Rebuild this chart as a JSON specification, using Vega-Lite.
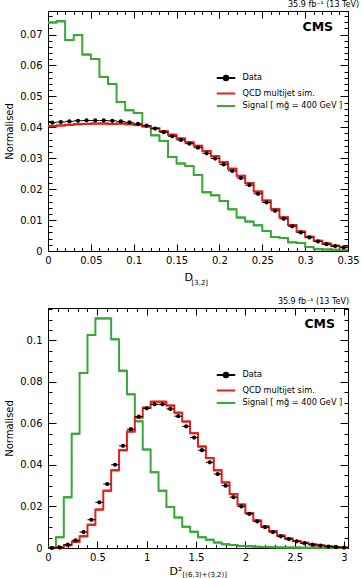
{
 "$schema": "https://vega.github.io/schema/vega-lite/v6.json",
 "background": "white",
 "padding": {"left": 4, "top": 0, "right": 0, "bottom": 0},
 "spacing": 11,
 "config": {
  "font": "DejaVu Sans",
  "view": {"stroke": "black", "strokeWidth": 1},
  "axis": {"domain": false, "grid": false, "labelFontSize": 10, "labelColor": "black", "tickColor": "black", "tickWidth": 1, "labelFlush": false, "labelOverlap": false, "titleFontWeight": "normal", "titleColor": "black", "titleFontSize": 10},
  "title": {"fontSize": 8, "fontWeight": "normal", "anchor": "end", "offset": 2, "color": "black"},
  "legend": {"labelFontSize": 8.2, "labelColor": "black", "padding": 0, "symbolStrokeWidth": 2, "symbolSize": 85, "rowPadding": 2.5, "labelOffset": 10.5}
 },
 "resolve": {"scale": {"color": "independent"}, "legend": {"color": "independent"}},
 "datasets": {
  "top": [
   {"lo":0,"hi":0.01,"m":0.005,"Data":0.0415,"QCD":0.0404,"Signal":0.0739},
   {"lo":0.01,"hi":0.02,"m":0.015,"Data":0.0417,"QCD":0.0406,"Signal":0.0743},
   {"lo":0.02,"hi":0.03,"m":0.025,"Data":0.0419,"QCD":0.0408,"Signal":0.0682},
   {"lo":0.03,"hi":0.04,"m":0.035,"Data":0.0421,"QCD":0.041,"Signal":0.0698},
   {"lo":0.04,"hi":0.05,"m":0.045,"Data":0.0422,"QCD":0.0411,"Signal":0.0635},
   {"lo":0.05,"hi":0.06,"m":0.055,"Data":0.0422,"QCD":0.0412,"Signal":0.0621},
   {"lo":0.06,"hi":0.07,"m":0.065,"Data":0.0422,"QCD":0.0412,"Signal":0.0563},
   {"lo":0.07,"hi":0.08,"m":0.075,"Data":0.0421,"QCD":0.0411,"Signal":0.054},
   {"lo":0.08,"hi":0.09,"m":0.085,"Data":0.0419,"QCD":0.0412,"Signal":0.0482},
   {"lo":0.09,"hi":0.1,"m":0.095,"Data":0.0416,"QCD":0.041,"Signal":0.0455},
   {"lo":0.1,"hi":0.11,"m":0.105,"Data":0.0411,"QCD":0.0407,"Signal":0.0446},
   {"lo":0.11,"hi":0.12,"m":0.115,"Data":0.0405,"QCD":0.0403,"Signal":0.0403},
   {"lo":0.12,"hi":0.13,"m":0.125,"Data":0.0396,"QCD":0.0397,"Signal":0.0374},
   {"lo":0.13,"hi":0.14,"m":0.135,"Data":0.0384,"QCD":0.0387,"Signal":0.0356},
   {"lo":0.14,"hi":0.15,"m":0.145,"Data":0.0371,"QCD":0.0376,"Signal":0.0304},
   {"lo":0.15,"hi":0.16,"m":0.155,"Data":0.0359,"QCD":0.0364,"Signal":0.0283},
   {"lo":0.16,"hi":0.17,"m":0.165,"Data":0.0347,"QCD":0.0352,"Signal":0.0275},
   {"lo":0.17,"hi":0.18,"m":0.175,"Data":0.0334,"QCD":0.034,"Signal":0.0246},
   {"lo":0.18,"hi":0.19,"m":0.185,"Data":0.0316,"QCD":0.0323,"Signal":0.019},
   {"lo":0.19,"hi":0.2,"m":0.195,"Data":0.0299,"QCD":0.0306,"Signal":0.018},
   {"lo":0.2,"hi":0.21,"m":0.205,"Data":0.028,"QCD":0.0287,"Signal":0.0162},
   {"lo":0.21,"hi":0.22,"m":0.215,"Data":0.0259,"QCD":0.0266,"Signal":0.0135},
   {"lo":0.22,"hi":0.23,"m":0.225,"Data":0.0236,"QCD":0.0243,"Signal":0.0108},
   {"lo":0.23,"hi":0.24,"m":0.235,"Data":0.0213,"QCD":0.022,"Signal":0.0095},
   {"lo":0.24,"hi":0.25,"m":0.245,"Data":0.0185,"QCD":0.0192,"Signal":0.0083},
   {"lo":0.25,"hi":0.26,"m":0.255,"Data":0.0157,"QCD":0.0163,"Signal":0.0065},
   {"lo":0.26,"hi":0.27,"m":0.265,"Data":0.013,"QCD":0.0136,"Signal":0.0045},
   {"lo":0.27,"hi":0.28,"m":0.275,"Data":0.0104,"QCD":0.0109,"Signal":0.0042},
   {"lo":0.28,"hi":0.29,"m":0.285,"Data":0.008,"QCD":0.0084,"Signal":0.0028},
   {"lo":0.29,"hi":0.3,"m":0.295,"Data":0.006,"QCD":0.0063,"Signal":0.0026},
   {"lo":0.3,"hi":0.31,"m":0.305,"Data":0.0044,"QCD":0.0046,"Signal":0.0013},
   {"lo":0.31,"hi":0.32,"m":0.315,"Data":0.0031,"QCD":0.0033,"Signal":0.0006},
   {"lo":0.32,"hi":0.33,"m":0.325,"Data":0.0022,"QCD":0.0024,"Signal":0.0005},
   {"lo":0.33,"hi":0.34,"m":0.335,"Data":0.0016,"QCD":0.0017,"Signal":0.0004},
   {"lo":0.34,"hi":0.35,"m":0.345,"Data":0.0012,"QCD":0.0012,"Signal":0.0003}
  ],
  "bottom": [
   {"lo":0,"hi":0.08,"m":0.04,"Data":0,"QCD":0,"Signal":0.0002},
   {"lo":0.08,"hi":0.16,"m":0.12,"Data":0.0002,"QCD":0.0003,"Signal":0.0052},
   {"lo":0.16,"hi":0.24,"m":0.2,"Data":0.0016,"QCD":0.0013,"Signal":0.0244},
   {"lo":0.24,"hi":0.32,"m":0.28,"Data":0.0037,"QCD":0.0029,"Signal":0.055},
   {"lo":0.32,"hi":0.4,"m":0.36,"Data":0.0077,"QCD":0.0056,"Signal":0.0843},
   {"lo":0.4,"hi":0.48,"m":0.44,"Data":0.0136,"QCD":0.0112,"Signal":0.1026},
   {"lo":0.48,"hi":0.56,"m":0.52,"Data":0.022,"QCD":0.0185,"Signal":0.1106},
   {"lo":0.56,"hi":0.64,"m":0.6,"Data":0.0308,"QCD":0.0276,"Signal":0.1106},
   {"lo":0.64,"hi":0.72,"m":0.68,"Data":0.0401,"QCD":0.0374,"Signal":0.1005},
   {"lo":0.72,"hi":0.8,"m":0.76,"Data":0.0492,"QCD":0.0471,"Signal":0.0854},
   {"lo":0.8,"hi":0.88,"m":0.84,"Data":0.0572,"QCD":0.0561,"Signal":0.074},
   {"lo":0.88,"hi":0.96,"m":0.92,"Data":0.0633,"QCD":0.0628,"Signal":0.061},
   {"lo":0.96,"hi":1.04,"m":1,"Data":0.0673,"QCD":0.0676,"Signal":0.0474},
   {"lo":1.04,"hi":1.12,"m":1.08,"Data":0.0692,"QCD":0.0705,"Signal":0.0365},
   {"lo":1.12,"hi":1.2,"m":1.16,"Data":0.0692,"QCD":0.0705,"Signal":0.0276},
   {"lo":1.2,"hi":1.28,"m":1.24,"Data":0.067,"QCD":0.0686,"Signal":0.0198},
   {"lo":1.28,"hi":1.36,"m":1.32,"Data":0.0635,"QCD":0.0652,"Signal":0.0147},
   {"lo":1.36,"hi":1.44,"m":1.4,"Data":0.0586,"QCD":0.0609,"Signal":0.0102},
   {"lo":1.44,"hi":1.52,"m":1.48,"Data":0.0532,"QCD":0.0553,"Signal":0.0078},
   {"lo":1.52,"hi":1.6,"m":1.56,"Data":0.0471,"QCD":0.0489,"Signal":0.0052},
   {"lo":1.6,"hi":1.68,"m":1.64,"Data":0.0413,"QCD":0.0433,"Signal":0.004},
   {"lo":1.68,"hi":1.76,"m":1.72,"Data":0.0356,"QCD":0.0374,"Signal":0.0026},
   {"lo":1.76,"hi":1.84,"m":1.8,"Data":0.03,"QCD":0.0316,"Signal":0.0018},
   {"lo":1.84,"hi":1.92,"m":1.88,"Data":0.0245,"QCD":0.026,"Signal":0.0014},
   {"lo":1.92,"hi":2,"m":1.96,"Data":0.02,"QCD":0.0209,"Signal":0.001},
   {"lo":2,"hi":2.08,"m":2.04,"Data":0.0164,"QCD":0.0168,"Signal":0.0008},
   {"lo":2.08,"hi":2.16,"m":2.12,"Data":0.0128,"QCD":0.0133,"Signal":0.0006},
   {"lo":2.16,"hi":2.24,"m":2.2,"Data":0.01,"QCD":0.0104,"Signal":0.0005},
   {"lo":2.24,"hi":2.32,"m":2.28,"Data":0.0077,"QCD":0.0081,"Signal":0.0004},
   {"lo":2.32,"hi":2.4,"m":2.36,"Data":0.0056,"QCD":0.006,"Signal":0.0003},
   {"lo":2.4,"hi":2.48,"m":2.44,"Data":0.0043,"QCD":0.0046,"Signal":0.0002},
   {"lo":2.48,"hi":2.56,"m":2.52,"Data":0.0032,"QCD":0.0034,"Signal":0.0002},
   {"lo":2.56,"hi":2.64,"m":2.6,"Data":0.0023,"QCD":0.0025,"Signal":0.0001},
   {"lo":2.64,"hi":2.72,"m":2.68,"Data":0.0016,"QCD":0.0018,"Signal":0.0001},
   {"lo":2.72,"hi":2.8,"m":2.76,"Data":0.0012,"QCD":0.0013,"Signal":0.0001},
   {"lo":2.8,"hi":2.88,"m":2.84,"Data":0.0007,"QCD":0.0009,"Signal":0.0001},
   {"lo":2.88,"hi":2.96,"m":2.92,"Data":0.0004,"QCD":0.0005,"Signal":0},
   {"lo":2.96,"hi":3.04,"m":3,"Data":0.0002,"QCD":0.0003,"Signal":0}
  ]
 },
 "vconcat": [
  {
   "width": 300, "height": 240,
   "title": "35.9 fb⁻¹ (13 TeV)",
   "resolve": {"axis": {"x": "independent", "y": "independent"}},
   "layer": [
    {
     "data": {"name": "top"},
     "transform": [{"fold": ["Data", "QCD", "Signal"], "as": ["s", "v"]}, {"filter": "datum.s == 'Signal'"}],
     "mark": {"type": "line", "interpolate": "step-after", "strokeWidth": 2},
     "encoding": {
      "x": {"field": "lo", "type": "quantitative", "scale": {"domain": [0, 0.35], "nice": false, "zero": false},
            "axis": {"orient": "bottom", "values": [0, 0.05, 0.1, 0.15, 0.2, 0.25, 0.3, 0.35], "format": "~g", "tickSize": -7, "labelPadding": 11, "title": "D", "titleFontSize": 11, "titleX": 136, "titleY": 29, "titleAlign": "left", "titleBaseline": "alphabetic"}},
      "y": {"field": "v", "type": "quantitative", "scale": {"domain": [0, 0.0776], "nice": false, "zero": false},
            "axis": {"orient": "left", "values": [0, 0.01, 0.02, 0.03, 0.04, 0.05, 0.06, 0.07], "format": "~g", "tickSize": -8, "labelPadding": 14, "title": "Normalised", "titlePadding": 5}},
      "color": {"field": "s", "type": "nominal", "scale": {"domain": ["Data", "QCD", "Signal"], "range": ["black", "#e3211c", "#38a838"]},
                "legend": {"orient": "none", "legendX": 172, "legendY": 61, "title": null,
                           "labelExpr": "datum.value == 'Data' ? 'Data' : datum.value == 'QCD' ? 'QCD multijet sim.' : 'Signal [ mg̃ = 400 GeV ]'",
                           "encode": {"symbols": {"update": {
                             "shape": {"signal": "datum.value == 'Data' ? 'M-2,0H2M0.48,0A0.48,0.48,0,1,1,-0.48,0A0.48,0.48,0,1,1,0.48,0Z' : 'M-2,0H2'"},
                             "fill": {"signal": "datum.value == 'Data' ? 'black' : 'transparent'"},
                             "stroke": {"signal": "datum.value == 'Data' ? 'black' : datum.value == 'QCD' ? '#e3211c' : '#38a838'"},
                             "strokeWidth": {"value": 2}, "opacity": {"value": 1}}}}}}
     }
    },
    {
     "data": {"name": "top"},
     "transform": [{"fold": ["Data", "QCD", "Signal"], "as": ["s", "v"]}, {"filter": "datum.s == 'Signal'"}],
     "mark": {"type": "rule", "strokeWidth": 2, "color": "#38a838"},
     "encoding": {
      "x": {"field": "lo", "type": "quantitative", "scale": {"domain": [0, 0.35], "nice": false, "zero": false},
            "axis": {"orient": "bottom", "values": [0,0.01,0.02,0.03,0.04,0.05,0.06,0.07,0.08,0.09,0.1,0.11,0.12,0.13,0.14,0.15,0.16,0.17,0.18,0.19,0.2,0.21,0.22,0.23,0.24,0.25,0.26,0.27,0.28,0.29,0.3,0.31,0.32,0.33,0.34,0.35], "tickSize": -3.5, "labels": false, "title": "[3,2]", "titleFontSize": 7, "titleX": 143, "titleY": 33, "titleAlign": "left", "titleBaseline": "alphabetic"}},
      "x2": {"field": "hi"},
      "y": {"field": "v", "type": "quantitative", "scale": {"domain": [0, 0.0776], "nice": false, "zero": false},
            "axis": {"orient": "left", "values": [0,0.002,0.004,0.006,0.008,0.01,0.012,0.014,0.016,0.018,0.02,0.022,0.024,0.026,0.028,0.03,0.032,0.034,0.036,0.038,0.04,0.042,0.044,0.046,0.048,0.05,0.052,0.054,0.056,0.058,0.06,0.062,0.064,0.066,0.068,0.07,0.072,0.074,0.076], "tickSize": -4, "labels": false, "title": null}}
     }
    },
    {
     "data": {"name": "top"},
     "transform": [{"fold": ["Data", "QCD", "Signal"], "as": ["s", "v"]}, {"filter": "datum.s == 'QCD'"}],
     "mark": {"type": "line", "interpolate": "step-after", "strokeWidth": 2},
     "encoding": {
      "x": {"field": "lo", "type": "quantitative", "scale": {"domain": [0, 0.35], "nice": false, "zero": false},
            "axis": {"orient": "top", "values": [0, 0.05, 0.1, 0.15, 0.2, 0.25, 0.3, 0.35], "tickSize": -7, "labels": false, "title": null}},
      "y": {"field": "v", "type": "quantitative", "scale": {"domain": [0, 0.0776], "nice": false, "zero": false},
            "axis": {"orient": "right", "values": [0, 0.01, 0.02, 0.03, 0.04, 0.05, 0.06, 0.07], "tickSize": -8, "labels": false, "title": null}},
      "color": {"field": "s", "type": "nominal", "scale": {"domain": ["Data", "QCD", "Signal"], "range": ["black", "#e3211c", "#38a838"]}}
     }
    },
    {
     "data": {"name": "top"},
     "transform": [{"fold": ["Data", "QCD", "Signal"], "as": ["s", "v"]}, {"filter": "datum.s == 'QCD'"}],
     "mark": {"type": "rule", "strokeWidth": 2, "color": "#e3211c"},
     "encoding": {
      "x": {"field": "lo", "type": "quantitative", "scale": {"domain": [0, 0.35], "nice": false, "zero": false},
            "axis": {"orient": "top", "values": [0,0.01,0.02,0.03,0.04,0.05,0.06,0.07,0.08,0.09,0.1,0.11,0.12,0.13,0.14,0.15,0.16,0.17,0.18,0.19,0.2,0.21,0.22,0.23,0.24,0.25,0.26,0.27,0.28,0.29,0.3,0.31,0.32,0.33,0.34,0.35], "tickSize": -3.5, "labels": false, "title": null}},
      "x2": {"field": "hi"},
      "y": {"field": "v", "type": "quantitative", "scale": {"domain": [0, 0.0776], "nice": false, "zero": false},
            "axis": {"orient": "right", "values": [0,0.002,0.004,0.006,0.008,0.01,0.012,0.014,0.016,0.018,0.02,0.022,0.024,0.026,0.028,0.03,0.032,0.034,0.036,0.038,0.04,0.042,0.044,0.046,0.048,0.05,0.052,0.054,0.056,0.058,0.06,0.062,0.064,0.066,0.068,0.07,0.072,0.074,0.076], "tickSize": -4, "labels": false, "title": null}}
     }
    },
    {
     "data": {"name": "top"},
     "transform": [{"fold": ["Data", "QCD", "Signal"], "as": ["s", "v"]}, {"filter": "datum.s == 'Data'"}],
     "mark": {"type": "rule", "strokeWidth": 1, "color": "black"},
     "encoding": {
      "x": {"field": "lo", "type": "quantitative", "scale": {"domain": [0, 0.35], "nice": false, "zero": false}, "axis": null},
      "x2": {"field": "hi"},
      "y": {"field": "v", "type": "quantitative", "scale": {"domain": [0, 0.0776], "nice": false, "zero": false}, "axis": null}
     }
    },
    {
     "data": {"name": "top"},
     "transform": [{"fold": ["Data", "QCD", "Signal"], "as": ["s", "v"]}, {"filter": "datum.s == 'Data'"}],
     "mark": {"type": "point", "filled": true, "size": 18, "opacity": 1, "shape": "circle"},
     "encoding": {
      "x": {"field": "m", "type": "quantitative", "scale": {"domain": [0, 0.35], "nice": false, "zero": false}, "axis": null},
      "y": {"field": "v", "type": "quantitative", "scale": {"domain": [0, 0.0776], "nice": false, "zero": false}, "axis": null},
      "color": {"field": "s", "type": "nominal", "scale": {"domain": ["Data", "QCD", "Signal"], "range": ["black", "#e3211c", "#38a838"]}}
     }
    },
    {
     "data": {"values": [{"t": "CMS"}]},
     "mark": {"type": "text", "align": "right", "baseline": "alphabetic", "fontSize": 12.5, "fontWeight": "bold", "color": "black"},
     "encoding": {
      "x": {"datum": 0.3326, "type": "quantitative", "scale": {"domain": [0, 0.35], "nice": false, "zero": false}, "axis": null},
      "y": {"datum": 0.0712, "type": "quantitative", "scale": {"domain": [0, 0.0776], "nice": false, "zero": false}, "axis": null},
      "text": {"field": "t"}
     }
    }
   ]
  },
  {
   "width": 300, "height": 240,
   "title": "35.9 fb⁻¹ (13 TeV)",
   "resolve": {"axis": {"x": "independent", "y": "independent"}},
   "layer": [
    {
     "data": {"name": "bottom"},
     "transform": [{"fold": ["Data", "QCD", "Signal"], "as": ["s", "v"]}, {"filter": "datum.s == 'Signal'"}],
     "mark": {"type": "line", "interpolate": "step-after", "strokeWidth": 2},
     "encoding": {
      "x": {"field": "lo", "type": "quantitative", "scale": {"domain": [0, 3.04], "nice": false, "zero": false},
            "axis": {"orient": "bottom", "values": [0, 0.5, 1, 1.5, 2, 2.5, 3], "format": "~g", "tickSize": -7, "labelPadding": 11, "title": "D²", "titleFontSize": 11, "titleX": 121, "titleY": 26, "titleAlign": "left", "titleBaseline": "alphabetic"}},
      "y": {"field": "v", "type": "quantitative", "scale": {"domain": [0, 0.1156], "nice": false, "zero": false},
            "axis": {"orient": "left", "values": [0, 0.02, 0.04, 0.06, 0.08, 0.1], "format": "~g", "tickSize": -8, "labelPadding": 14, "title": "Normalised", "titlePadding": 5}},
      "color": {"field": "s", "type": "nominal", "scale": {"domain": ["Data", "QCD", "Signal"], "range": ["black", "#e3211c", "#38a838"]},
                "legend": {"orient": "none", "legendX": 172, "legendY": 61, "title": null,
                           "labelExpr": "datum.value == 'Data' ? 'Data' : datum.value == 'QCD' ? 'QCD multijet sim.' : 'Signal [ mg̃ = 400 GeV ]'",
                           "encode": {"symbols": {"update": {
                             "shape": {"signal": "datum.value == 'Data' ? 'M-2,0H2M0.48,0A0.48,0.48,0,1,1,-0.48,0A0.48,0.48,0,1,1,0.48,0Z' : 'M-2,0H2'"},
                             "fill": {"signal": "datum.value == 'Data' ? 'black' : 'transparent'"},
                             "stroke": {"signal": "datum.value == 'Data' ? 'black' : datum.value == 'QCD' ? '#e3211c' : '#38a838'"},
                             "strokeWidth": {"value": 2}, "opacity": {"value": 1}}}}}}
     }
    },
    {
     "data": {"name": "bottom"},
     "transform": [{"fold": ["Data", "QCD", "Signal"], "as": ["s", "v"]}, {"filter": "datum.s == 'Signal'"}],
     "mark": {"type": "rule", "strokeWidth": 2, "color": "#38a838"},
     "encoding": {
      "x": {"field": "lo", "type": "quantitative", "scale": {"domain": [0, 3.04], "nice": false, "zero": false},
            "axis": {"orient": "bottom", "values": [0,0.1,0.2,0.3,0.4,0.5,0.6,0.7,0.8,0.9,1,1.1,1.2,1.3,1.4,1.5,1.6,1.7,1.8,1.9,2,2.1,2.2,2.3,2.4,2.5,2.6,2.7,2.8,2.9,3], "tickSize": -3.5, "labels": false, "title": "[(6,3)+(3,2)]", "titleFontSize": 7, "titleX": 134, "titleY": 28, "titleAlign": "left", "titleBaseline": "alphabetic"}},
      "x2": {"field": "hi"},
      "y": {"field": "v", "type": "quantitative", "scale": {"domain": [0, 0.1156], "nice": false, "zero": false},
            "axis": {"orient": "left", "values": [0,0.005,0.01,0.015,0.02,0.025,0.03,0.035,0.04,0.045,0.05,0.055,0.06,0.065,0.07,0.075,0.08,0.085,0.09,0.095,0.1,0.105,0.11,0.115], "tickSize": -4, "labels": false, "title": null}}
     }
    },
    {
     "data": {"name": "bottom"},
     "transform": [{"fold": ["Data", "QCD", "Signal"], "as": ["s", "v"]}, {"filter": "datum.s == 'QCD'"}],
     "mark": {"type": "line", "interpolate": "step-after", "strokeWidth": 2},
     "encoding": {
      "x": {"field": "lo", "type": "quantitative", "scale": {"domain": [0, 3.04], "nice": false, "zero": false},
            "axis": {"orient": "top", "values": [0, 0.5, 1, 1.5, 2, 2.5, 3], "tickSize": -7, "labels": false, "title": null}},
      "y": {"field": "v", "type": "quantitative", "scale": {"domain": [0, 0.1156], "nice": false, "zero": false},
            "axis": {"orient": "right", "values": [0, 0.02, 0.04, 0.06, 0.08, 0.1], "tickSize": -8, "labels": false, "title": null}},
      "color": {"field": "s", "type": "nominal", "scale": {"domain": ["Data", "QCD", "Signal"], "range": ["black", "#e3211c", "#38a838"]}}
     }
    },
    {
     "data": {"name": "bottom"},
     "transform": [{"fold": ["Data", "QCD", "Signal"], "as": ["s", "v"]}, {"filter": "datum.s == 'QCD'"}],
     "mark": {"type": "rule", "strokeWidth": 2, "color": "#e3211c"},
     "encoding": {
      "x": {"field": "lo", "type": "quantitative", "scale": {"domain": [0, 3.04], "nice": false, "zero": false},
            "axis": {"orient": "top", "values": [0,0.1,0.2,0.3,0.4,0.5,0.6,0.7,0.8,0.9,1,1.1,1.2,1.3,1.4,1.5,1.6,1.7,1.8,1.9,2,2.1,2.2,2.3,2.4,2.5,2.6,2.7,2.8,2.9,3], "tickSize": -3.5, "labels": false, "title": null}},
      "x2": {"field": "hi"},
      "y": {"field": "v", "type": "quantitative", "scale": {"domain": [0, 0.1156], "nice": false, "zero": false},
            "axis": {"orient": "right", "values": [0,0.005,0.01,0.015,0.02,0.025,0.03,0.035,0.04,0.045,0.05,0.055,0.06,0.065,0.07,0.075,0.08,0.085,0.09,0.095,0.1,0.105,0.11,0.115], "tickSize": -4, "labels": false, "title": null}}
     }
    },
    {
     "data": {"name": "bottom"},
     "transform": [{"fold": ["Data", "QCD", "Signal"], "as": ["s", "v"]}, {"filter": "datum.s == 'Data'"}],
     "mark": {"type": "rule", "strokeWidth": 1, "color": "black"},
     "encoding": {
      "x": {"field": "lo", "type": "quantitative", "scale": {"domain": [0, 3.04], "nice": false, "zero": false}, "axis": null},
      "x2": {"field": "hi"},
      "y": {"field": "v", "type": "quantitative", "scale": {"domain": [0, 0.1156], "nice": false, "zero": false}, "axis": null}
     }
    },
    {
     "data": {"name": "bottom"},
     "transform": [{"fold": ["Data", "QCD", "Signal"], "as": ["s", "v"]}, {"filter": "datum.s == 'Data'"}],
     "mark": {"type": "point", "filled": true, "size": 18, "opacity": 1, "shape": "circle"},
     "encoding": {
      "x": {"field": "m", "type": "quantitative", "scale": {"domain": [0, 3.04], "nice": false, "zero": false}, "axis": null},
      "y": {"field": "v", "type": "quantitative", "scale": {"domain": [0, 0.1156], "nice": false, "zero": false}, "axis": null},
      "color": {"field": "s", "type": "nominal", "scale": {"domain": ["Data", "QCD", "Signal"], "range": ["black", "#e3211c", "#38a838"]}}
     }
    },
    {
     "data": {"values": [{"t": "CMS"}]},
     "mark": {"type": "text", "align": "right", "baseline": "alphabetic", "fontSize": 12.5, "fontWeight": "bold", "color": "black"},
     "encoding": {
      "x": {"datum": 2.909, "type": "quantitative", "scale": {"domain": [0, 3.04], "nice": false, "zero": false}, "axis": null},
      "y": {"datum": 0.1058, "type": "quantitative", "scale": {"domain": [0, 0.1156], "nice": false, "zero": false}, "axis": null},
      "text": {"field": "t"}
     }
    }
   ]
  }
 ]
}
